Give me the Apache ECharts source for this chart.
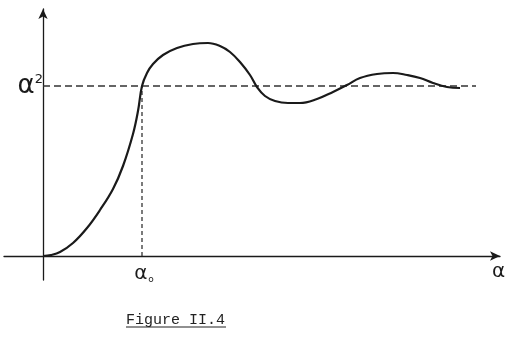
<!DOCTYPE html>
<html><head><meta charset="utf-8">
<script src="https://cdn.jsdelivr.net/npm/echarts@6/dist/echarts.min.js"></script>
<style>html,body{margin:0;padding:0;background:#fff}#c{width:505px;height:354px}</style>
</head><body><div id="c"></div>
<script>
// Curve (x, y) in arbitrary units; origin at axes intersection
const curveX = [0,8,17,30,44,57,70,80,90,95,99,104,110,120,134,150,165,177,187,197,207,214,222,232,245,257,274,290,304,317,334,350,364,377,390,404,417];
const curveY = [0,1,4,13,28,46,67,90,122,145,170,183,192,201,208,212,213,210,204,194,181,169,160,155,153,153,157,164,171,178,182,183,181,178,173,169,168];
const asymptote = 170;      // α² level
const alpha0 = 99;         // α₀ position
const asymEnd = 433;
const titleText = 'Figure II.4';

const curve = curveX.map((x,i)=>[x,curveY[i]]);
const ink = '#1a1a1a';
const chart = echarts.init(document.getElementById('c'));
chart.setOption({
  animation:false,
  backgroundColor:'#fff',
  title:{text:titleText,left:126,top:313,padding:0,textStyle:{fontFamily:'Liberation Mono',fontSize:15,fontWeight:'normal',color:'#222'}},
  grid:{left:4,right:5,top:9,bottom:74,containLabel:false,outerBoundsMode:'none'},
  xAxis:{type:'value',min:-39,max:457,splitLine:{show:false},
    axisLine:{onZero:true,lineStyle:{color:ink,width:1.3},symbol:['none','arrow'],symbolSize:[7,10]},
    axisTick:{show:false},
    axisLabel:{customValues:[alpha0],margin:-17,formatter:()=>'{a|α}{s|o}',
      rich:{a:{fontFamily:'DejaVu Sans',fontSize:20,color:ink,padding:[0,0,0,4]},s:{fontFamily:'DejaVu Sans',fontSize:9,color:ink,padding:[12,0,0,1]}}},
    name:'α',nameLocation:'end',nameGap:-8,
    nameTextStyle:{fontFamily:'DejaVu Sans',fontSize:20,color:ink,verticalAlign:'top',align:'left',padding:[6,0,0,0]}
  },
  yAxis:{type:'value',min:-24,max:247,splitLine:{show:false},
    axisLine:{onZero:true,lineStyle:{color:ink,width:1.3},symbol:['none','arrow'],symbolSize:[7,10]},
    axisTick:{show:false},
    axisLabel:{customValues:[asymptote],margin:-39,formatter:()=>'{a|α}{s|2}',
      rich:{a:{fontFamily:'DejaVu Sans',fontSize:26,color:ink},s:{fontFamily:'DejaVu Sans',fontSize:13,color:ink,verticalAlign:'top',padding:[0,0,10,0]}}}
  },
  series:[
    {type:'line',data:[[0,asymptote],[asymEnd,asymptote]],symbol:'none',
      lineStyle:{color:'#333',width:1.3,type:[7,4]},silent:true},
    {type:'line',data:[[alpha0,0],[alpha0,asymptote]],symbol:'none',
      lineStyle:{color:'#333',width:1.3,type:[4,3]},silent:true},
    {type:'line',data:curve,symbol:'none',smooth:0.4,
      lineStyle:{color:ink,width:2.2}}
  ],
  graphic:[{type:'line',shape:{x1:126,y1:327,x2:226,y2:327},style:{stroke:'#222',lineWidth:1.2}}]
});
</script></body></html>
